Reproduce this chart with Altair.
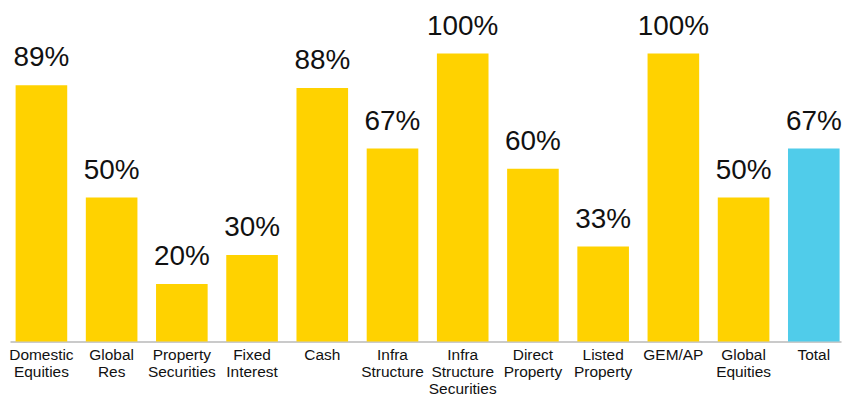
import altair as alt
import pandas as pd

categories = [
    "Domestic\nEquities", "Global\nRes", "Property\nSecurities", "Fixed\nInterest",
    "Cash", "Infra\nStructure", "Infra\nStructure\nSecurities", "Direct\nProperty",
    "Listed\nProperty", "GEM/AP", "Global\nEquities", "Total",
]
values = [0.89, 0.50, 0.20, 0.30, 0.88, 0.67, 1.00, 0.60, 0.33, 1.00, 0.50, 0.67]
labels = ["89%", "50%", "20%", "30%", "88%", "67%", "100%", "60%", "33%", "100%", "50%", "67%"]
groups = ["asset"] * 11 + ["total"]

df = pd.DataFrame({"cat": categories, "val": values, "lab": labels, "grp": groups})

x = alt.X(
    "cat:N",
    sort=categories,
    title=None,
    scale=alt.Scale(paddingInner=0.265, paddingOuter=0.05, align=0.8),
    axis=alt.Axis(
        labelAngle=0,
        labelExpr="split(datum.label, '\\n')",
        labelFont="Liberation Sans",
        labelFontSize=15.5,
        labelLineHeight=17,
        labelColor="#111111",
        labelPadding=6,
        ticks=False,
        domainColor="#b8b8b8",
        domainWidth=1.5,
        labelLimit=200,
    ),
)
y = alt.Y("val:Q", scale=alt.Scale(domain=[0, 1.128], nice=False), axis=None)

bars = alt.Chart(df).mark_bar().encode(
    x=x,
    y=y,
    color=alt.Color(
        "grp:N",
        scale=alt.Scale(domain=["asset", "total"], range=["#FFD200", "#50CCEA"]),
        legend=None,
    ),
)

text = alt.Chart(df).mark_text(
    font="Liberation Sans", fontSize=28, baseline="alphabetic", dy=-19, color="#111111"
).encode(x=x, y=y, text="lab:N")

chart = (
    alt.layer(bars, text)
    .properties(width=834, height=326, padding={"left": 0, "top": 3, "right": 0, "bottom": 0})
    .configure_view(stroke=None)
)

chart.save("out.html", embed_options={"renderer": "svg", "actions": False})
